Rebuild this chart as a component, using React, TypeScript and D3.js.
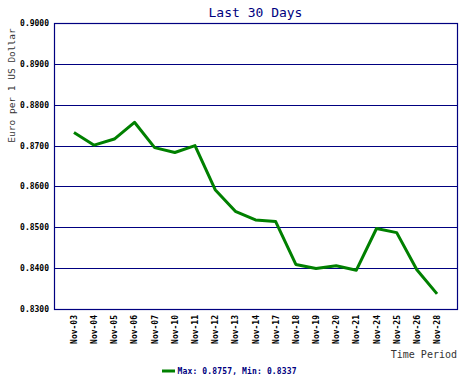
import React from "react";
import * as d3 from "d3";

const dates = ["Nov-03","Nov-04","Nov-05","Nov-06","Nov-07","Nov-10","Nov-11","Nov-12","Nov-13","Nov-14","Nov-17","Nov-18","Nov-19","Nov-20","Nov-21","Nov-24","Nov-25","Nov-26","Nov-28"];
const rates = [0.8732,0.8701,0.8716,0.8757,0.8695,0.8683,0.8700,0.8592,0.8539,0.8518,0.8514,0.8409,0.8399,0.8406,0.8395,0.8497,0.8487,0.8396,0.8337];
const yTicks = [0.83,0.84,0.85,0.86,0.87,0.88,0.89,0.90];
const title = "Last 30 Days";
const yTitle = "Euro per 1 US Dollar";
const xTitle = "Time Period";

const W = 460, H = 380;
const L = 54, R = 457, T = 23, B = 309;
const mono = "'DejaVu Sans Mono', monospace";

export default function App() {
  const x = d3.scalePoint<string>().domain(dates).range([L, R]).padding(0.99);
  const y = d3.scaleLinear().domain([0.83, 0.9]).range([B, T]);
  const line = d3.line<number>().x((_, i) => x(dates[i]) as number).y(d => y(d));
  const mx = d3.max(rates) as number;
  const mn = d3.min(rates) as number;
  return (
    <svg width={W} height={H} style={{ position: "absolute", left: 0, top: 0, background: "#fff" }}>
      <rect x={0} y={0} width={W} height={H} fill="#fff" />
      <text x={(L + R) / 2} y={17} textAnchor="middle" fontFamily={mono} fontSize={13} fill="#000080">{title}</text>
      {yTicks.map(t => (
        <g key={t}>
          <line x1={L} x2={R} y1={Math.round(y(t)) + 0.5} y2={Math.round(y(t)) + 0.5} stroke="#000080" strokeWidth={1} />
          <text x={49} y={Math.round(y(t)) + 3} textAnchor="end" fontFamily={mono} fontWeight="bold" fontSize={8} fill="#000">{t.toFixed(4)}</text>
        </g>
      ))}
      <rect x={L + 0.5} y={T + 0.5} width={R - L} height={B - T} fill="none" stroke="#000080" strokeWidth={1.2} />
      <path d={line(rates) || ""} fill="none" stroke="#008000" strokeWidth={3} strokeLinejoin="round" />
      {dates.map(d => (
        <text key={d} transform={`translate(${(x(d) as number) + 3},315) rotate(-90)`} textAnchor="end" fontFamily={mono} fontWeight="bold" fontSize={8} fill="#000">{d}</text>
      ))}
      <text transform={`translate(15,85.5) rotate(-90)`} textAnchor="middle" fontFamily={mono} fontSize={9.5} fill="#333">{yTitle}</text>
      <text x={457} y={358} textAnchor="end" fontFamily={mono} fontSize={10} fill="#333">{xTitle}</text>
      <line x1={162} x2={175} y1={371} y2={371} stroke="#008000" strokeWidth={3} />
      <text x={177.5} y={374} fontFamily={mono} fontWeight="bold" fontSize={8} letterSpacing={0.15} fill="#000080">{`Max: ${mx.toFixed(4)}, Min: ${mn.toFixed(4)}`}</text>
    </svg>
  );
}
